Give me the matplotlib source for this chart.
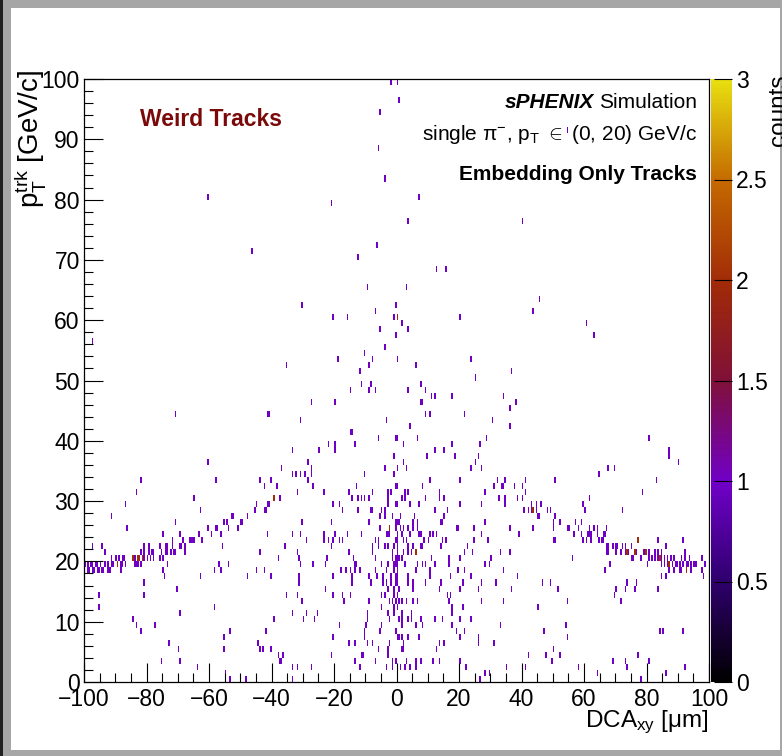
import numpy as np
import matplotlib
matplotlib.use("Agg")
import matplotlib.pyplot as plt
from matplotlib.colors import LinearSegmentedColormap
from matplotlib.patches import Rectangle

plt.rcParams['font.family'] = ['Liberation Sans', 'DejaVu Sans']
plt.rcParams['mathtext.fontset'] = 'custom'
plt.rcParams['mathtext.rm'] = 'Liberation Sans'
plt.rcParams['mathtext.it'] = 'Liberation Sans:italic'
plt.rcParams['mathtext.bf'] = 'Liberation Sans:bold'

# cells with one entry, (pT bin centre, [DCA values]) -- upper part of the plot
rows_upper = [
    (99.5, [-2.0, 0.0]),
    (96.5, [0.5]),
    (94.5, [-5.3]),
    (91.5, [54.5]),
    (88.5, [-5.6]),
    (83.5, [-3.9]),
    (80.5, [-60.5, 7.3]),
    (79.5, [-21.0]),
    (76.5, [3.6, 40.2]),
    (72.5, [-6.2]),
    (71.5, [-46.2]),
    (70.5, [-12.2]),
    (68.5, [12.6, 15.6]),
    (65.5, [-9.5, 3.0]),
    (63.5, [45.7]),
    (62.5, [-30.2, -0.5]),
    (61.5, [-6.6, 43.6]),
    (60.5, [-20.2, -15.8, -1.0, 20.1]),
    (59.5, [1.9, 60.6]),
    (58.5, [-5.3, 3.6]),
    (57.5, [-0.1, 63.4]),
    (56.5, [-97.4]),
    (55.5, [-3.6]),
    (54.5, [-10.2]),
    (53.5, [-18.8, -7.9, 0.1, 23.6]),
    (52.5, [-35.3, -8.9, 6.0]),
    (51.5, [-11.9, 36.9]),
    (50.5, [25.3]),
]

# negative DCA side, pT < 50
rows_left = [
    (49.5, [-11.3, -8.3]),
    (48.5, [-14.9, -8.8, -6.9]),
    (46.5, [-27.1, -19.6]),
    (44.5, [-70.6, -41.5, -40.6]),
    (43.5, [-30.9, -3.3]),
    (41.5, [-14.9, -14.3]),
    (40.5, [-5.9, -0.3]),
    (39.5, [-21.8, -19.6, -13.3]),
    (38.5, [-33.2, -24.9, -19.9]),
    (37.5, [-0.9]),
    (36.5, [-60.2, -28.2]),
    (35.5, [-37.0, -27.4, -3.9]),
    (34.5, [-33.2, -32.3, -31.0, -29.4, -27.4, -10.5, -0.8]),
    (33.5, [-81.9, -57.8, -43.9, -40.2, -28.5]),
    (32.5, [-42.2, -38.2, -26.8, -12.9, -0.1]),
    (31.5, [-83.5, -31.9, -23.3, -15.5, -7.8, -3.0, -1.9]),
    (30.5, [-64.6, -37.2, -14.2, -12.5, -11.4, -10.2, -8.8, -2.8]),
    (29.5, [-86.6, -44.9, -41.5, -41.0, -20.2, -18.3, -2.9, -0.1]),
    (28.5, [-62.9, -45.1, -42.4, -41.9, -17.2, -12.2, -8.5, -8.0, -4.6, -3.8]),
    (27.5, [-91.1, -52.7, -52.2, -47.9, -5.2, -3.7, -1.1]),
    (26.5, [-70.6, -55.3, -54.3, -49.9, -49.2, -30.2, -20.9, -8.6, -0.1]),
    (25.5, [-86.2, -60.2, -57.8, -57.3, -53.7, -50.8, -5.1, -0.3]),
    (24.5, [-74.8, -69.2, -63.3, -59.1, -56.3, -41.2, -33.4, -30.6, -23.3,
            -19.7, -15.9, -11.3, -3.4, -3.0, -2.1]),
    (23.5, [-71.8, -68.4, -66.1, -65.6, -65.1, -64.6, -62.1, -28.9, -23.4,
            -21.8, -20.5, -18.5, -17.1, -6.6, -5.9, -0.2]),
    (22.5, [-97.1, -94.2, -80.8, -79.2, -75.8, -73.7, -73.2, -71.6, -69.4,
            -68.9, -67.8, -55.8, -35.6, -20.7, -7.8, -5.6, -3.9, -2.6, -0.8]),
    (21.5, [-93.1, -82.0, -80.7, -79.2, -78.1, -77.6, -75.1, -73.7, -73.2,
            -72.4, -71.5, -70.6, -68.0, -43.9, -31.6, -15.5, -7.9, -1.2]),
    (20.5, [-91.5, -89.7, -88.6, -87.7, -87.2, -83.8, -80.7, -79.7, -78.9,
            -77.7, -76.0, -74.7, -37.9, -31.2, -22.2, -13.6, -6.7, -1.1, -0.1]),
    (19.5, [-99.6, -98.6, -97.9, -97.2, -96.5, -95.6, -94.6, -93.3, -92.4,
            -91.5, -90.6, -88.1, -87.6, -86.8, -84.0, -83.4, -82.9, -81.8,
            -73.3, -56.9, -53.6, -30.9, -26.8, -22.6, -13.3, -12.8, -5.0,
            -3.0, -1.0, -0.4]),
    (18.5, [-99.0, -98.2, -97.5, -96.7, -96.0, -95.2, -94.4, -93.6, -92.5,
            -92.0, -88.5, -74.8, -58.5, -56.5, -44.9, -42.3, -18.0, -16.2,
            -14.7, -13.2, -11.9, -7.0, -3.1, -0.8]),
    (17.5, [-74.3, -62.6, -47.9, -40.2, -31.1, -20.5, -14.1, -8.7, -6.1,
            -4.3, -1.8, -0.3]),
    (16.5, [-80.6, -31.2, -14.2, -8.1, -4.5, -3.4, -1.9, -0.4]),
    (15.5, [-70.2, -23.0, -2.9, -0.8]),
    (14.5, [-95.5, -80.8, -35.5, -32.0, -20.3, -17.2, -14.6, -4.9, -4.0, -0.6]),
    (13.5, [-30.2, -17.0, -8.8, -2.1, -1.3, -0.5]),
    (12.5, [-95.5, -58.5, -4.7, -0.8]),
    (11.5, [-69.2, -33.4, -28.6, -25.2, -9.2, -2.6, -0.9]),
    (10.5, [-84.4, -39.5, -29.9, -26.2, -9.5, -2.2]),
    (9.5, [-83.1, -77.2, -18.4, -9.9, -4.7]),
    (8.5, [-81.9, -53.2, -41.9, -10.4, -5.5, -0.2]),
    (7.5, [-55.2, -20.2, -10.4, 0.0]),
    (6.5, [-72.8, -44.2, -15.5, -13.3, -9.5, -7.8, -2.4]),
    (5.5, [-69.8, -55.2, -44.0, -42.8, -40.3, -5.9, -2.7]),
    (4.5, [-37.8, -36.2, -20.6, -11.1, -10.6, -2.8]),
    (3.5, [-75.5, -69.5, -37.4, -36.9, -13.2, -6.6, -1.3, -0.2]),
    (2.5, [-63.8, -33.1, -31.8, -27.5, -11.6, -3.3, -1.5]),
    (1.5, [-54.8]),
    (0.5, [-53.5, -48.2, -33.4]),
]

# positive DCA side, pT < 50
rows_right = [
    (49.5, [7.7]),
    (48.5, [3.9, 9.0]),
    (47.5, [11.1, 12.4, 17.8, 34.4]),
    (46.5, [7.5, 8.0, 38.2]),
    (45.5, [36.1]),
    (44.5, [9.2, 10.5, 21.5]),
    (43.5, [30.8]),
    (42.5, [4.1, 36.1]),
    (40.5, [0.1, 6.5, 28.7, 80.7]),
    (39.5, [2.2, 17.8, 26.7]),
    (38.5, [12.4, 15.1, 87.3]),
    (37.5, [9.8, 18.5, 26.1, 87.3]),
    (36.5, [2.2, 25.1, 90.4]),
    (35.5, [0.4, 3.1, 23.5, 27.1, 67.5, 69.8]),
    (34.5, [64.7]),
    (33.5, [10.7, 20.4, 32.1, 34.8, 41.4, 50.7, 83.0]),
    (32.5, [0.2, 8.4, 31.4, 33.5, 34.0, 37.9, 40.2]),
    (31.5, [2.9, 3.8, 13.5, 28.1, 41.1, 78.5]),
    (30.5, [1.8, 2.6, 9.4, 13.5, 15.2, 32.9, 34.5, 38.5, 40.2, 61.5]),
    (29.5, [0.1, 4.1, 7.1, 20.4, 27.1, 34.8, 43.1, 44.7, 46.3, 59.7]),
    (28.5, [12.1, 16.1, 40.8, 42.1, 43.1, 43.6, 43.9, 44.7, 48.1, 49.2,
            60.1, 72.1]),
    (27.5, [1.4, 5.8, 15.3, 45.3, 45.8, 50.8]),
    (26.5, [0.3, 0.8, 5.2, 6.5, 14.3, 14.8, 28.1, 50.4, 52.1, 57.4, 59.4]),
    (25.5, [1.1, 2.4, 3.9, 5.2, 6.5, 19.3, 19.8, 24.8, 36.1, 43.5, 50.3,
            54.5, 55.4, 58.3, 61.5, 63.1, 64.3, 67.3]),
    (24.5, [0.3, 1.5, 4.3, 7.1, 7.6, 10.5, 11.6, 12.9, 27.4, 39.1, 56.5,
            59.3, 61.1, 61.6, 62.2, 64.2, 66.0, 66.5]),
    (23.5, [0.1, 2.4, 3.0, 8.9, 10.0, 14.5, 15.8, 24.8, 29.2, 50.0, 50.5,
            59.8, 60.8, 62.0, 64.9, 65.8, 66.3, 83.7, 91.8]),
    (22.5, [0.1, 3.8, 5.4, 7.5, 8.0, 14.2, 22.9, 67.0, 67.9, 69.0, 70.2,
            70.7, 72.2, 73.4, 75.1, 86.1]),
    (21.5, [0.1, 2.0, 3.7, 4.8, 21.8, 24.2, 33.4, 36.4, 67.0, 67.9, 70.2,
            71.9, 73.0, 74.3, 76.7, 79.1, 80.6, 82.6, 83.7, 84.7, 92.4]),
    (20.5, [0.1, 0.8, 1.8, 11.1, 16.7, 20.1, 30.2, 56.1, 75.4, 75.9, 78.0,
            80.9, 81.9, 82.9, 83.9, 84.9, 85.9, 86.9, 87.9, 88.9,
            91.3, 92.4, 93.7, 97.7]),
    (19.5, [0.1, 2.8, 6.7, 8.2, 9.4, 12.4, 16.6, 28.2, 29.5, 68.1, 80.1,
            84.5, 85.5, 86.5, 88.1, 89.1, 89.6, 90.6, 91.6, 92.6, 93.1,
            94.1, 95.1, 95.8, 98.5]),
    (18.5, [0.3, 6.2, 10.9, 19.5, 21.6, 34.2, 66.7, 87.3, 88.5, 90.5, 91.0,
            94.1, 97.5]),
    (17.5, [0.1, 3.7, 10.9, 17.4, 23.5, 38.8, 84.5, 86.0, 98.0]),
    (16.5, [0.1, 3.7, 5.2, 9.4, 14.1, 21.4, 27.1, 31.6, 46.8, 49.3, 73.9, 76.6]),
    (15.5, [0.7, 5.4, 13.5, 20.4, 26.3, 36.8, 51.7, 70.2, 73.1, 76.0, 83.7]),
    (14.5, [0.3, 16.1, 17.2, 69.8]),
    (13.5, [0.5, 1.8, 3.3, 5.2, 6.9, 16.7, 27.0, 34.2, 54.5, 71.7]),
    (12.5, [0.3, 17.5, 21.1, 45.1]),
    (11.5, [1.8, 4.5, 17.5]),
    (10.5, [0.7, 1.8, 3.5, 4.7, 7.5, 12.1, 14.7, 20.4, 23.8]),
    (9.5, [1.8, 6.2, 8.2, 17.5, 33.4, 54.1]),
    (8.5, [19.0, 21.7, 47.4, 84.4, 85.1, 91.5]),
    (7.5, [0.7, 1.8, 3.5, 7.3, 20.1, 26.1, 54.6]),
    (6.5, [2.0, 13.7, 15.4, 26.3, 31.1]),
    (5.5, [1.8, 2.4, 12.8, 50.1]),
    (4.5, [42.1, 47.7, 52.3, 77.1]),
    (3.5, [3.0, 6.0, 7.5, 11.7, 13.8, 20.4, 49.8, 69.2, 73.4, 80.7]),
    (2.5, [0.3, 1.0, 2.6, 4.1, 6.0, 22.1, 35.1, 41.4, 58.1, 73.6, 92.4]),
    (1.5, [28.2, 29.7, 40.4, 64.2, 86.4]),
    (0.5, [26.5, 78.3]),
]

# cells with two entries
rows_double = [
    (60.5, [0.2]),
    (30.5, [-39.4]),
    (25.5, [-2.1]),
    (23.5, [77.4]),
    (21.5, [6.0, 73.7, 76.2, 79.6]),
    (20.5, [-84.5, -82.9, -82.2, -81.5, 84.4]),
    (19.5, [-89.3, 87.1]),
    (18.5, [92.9]),
]


def unpack(rows, n):
    xs, ys, ws = [], [], []
    for pt, dcas in rows:
        xs += dcas
        ys += [pt] * len(dcas)
        ws += [n] * len(dcas)
    return xs, ys, ws


dca, pt, w = [], [], []
for rows, n in [(rows_upper, 1), (rows_left, 1), (rows_right, 1), (rows_double, 2)]:
    a, b, c = unpack(rows, n)
    dca += a
    pt += b
    w += c

xedges = np.linspace(-100, 100, 401)
yedges = np.linspace(0, 100, 101)
H, _, _ = np.histogram2d(dca, pt, bins=[xedges, yedges], weights=w)
H = np.ma.masked_equal(H, 0)

# palette
cmap = LinearSegmentedColormap.from_list("pal", [
    (0.0, "#000000"),
    (0.17, "#300070"),
    (0.33, "#7000c8"),
    (0.5, "#801038"),
    (0.66, "#a02a08"),
    (0.83, "#c46800"),
    (1.0, "#e8e010"),
])

W, Hpx = 782, 756
fig = plt.figure(figsize=(W / 100, Hpx / 100), dpi=100)

# screenshot frame
fig.patches.append(Rectangle((0, 0), 1, 1, transform=fig.transFigure,
                             facecolor="#a6a6a6", edgecolor="none", zorder=-10))
fig.patches.append(Rectangle((0, 0), 3 / W, 1, transform=fig.transFigure,
                             facecolor="#202020", edgecolor="none", zorder=-9))
fig.patches.append(Rectangle((11 / W, 6 / Hpx), (780 - 11) / W, (748 - 6) / Hpx,
                             transform=fig.transFigure, facecolor="white",
                             edgecolor="none", zorder=-8))

ax = fig.add_axes([84 / W, 1 - 682 / Hpx, 625 / W, 603 / Hpx])
mesh = ax.pcolormesh(xedges, yedges, H.T, cmap=cmap, vmin=0, vmax=3,
                     antialiased=False, linewidth=0)
ax.set_xlim(-100, 100)
ax.set_ylim(0, 100)
ax.set_xticks(np.arange(-100, 101, 20))
ax.set_xticks(np.arange(-100, 101, 5), minor=True)
ax.set_yticks(np.arange(0, 101, 10))
ax.set_yticks(np.arange(0, 101, 2), minor=True)
ax.tick_params(which="both", direction="in", top=False, right=False,
               labelsize=16.5, width=0.8)
ax.tick_params(axis="x", which="major", length=13.5, pad=4)
ax.tick_params(axis="x", which="minor", length=6.8)
ax.tick_params(axis="y", which="major", length=13.5, pad=3)
ax.tick_params(axis="y", which="minor", length=6.8)
for s in ax.spines.values():
    s.set_linewidth(0.9)

cax = fig.add_axes([711 / W, 1 - 682 / Hpx, 21 / W, 603 / Hpx])
cb = fig.colorbar(mesh, cax=cax)
cb.outline.set_visible(False)
cb.set_ticks(np.arange(0, 3.01, 0.5))
cb.set_ticklabels(["0", "0.5", "1", "1.5", "2", "2.5", "3"])
cax.tick_params(direction="in", length=13, width=0.8, labelsize=16.5, pad=3)

fig.text(30 / W, 1 - 70 / Hpx, r"$\mathrm{p}_{\mathrm{T}}^{\mathrm{trk}}$ [GeV/c]",
         rotation=90, ha="center", va="top", fontsize=20)
fig.text(709 / W, 1 - 722 / Hpx, r"DCA$_{\mathrm{xy}}$ [$\mathrm{\mu}$m]",
         ha="right", va="center", fontsize=17.5)
fig.text(779 / W, 1 - 75 / Hpx, "counts", rotation=90, ha="center", va="top",
         fontsize=17.5)

fig.text(140 / W, 1 - 119 / Hpx, "Weird Tracks", color="#7a0a0a",
         fontweight="bold", fontsize=16.5, ha="left", va="center")

t_sim = fig.text(697 / W, 1 - 102 / Hpx, "Simulation", fontsize=15,
                 ha="right", va="center")
fig.canvas.draw()
bb = t_sim.get_window_extent(fig.canvas.get_renderer())
fig.text((bb.x0 - 5) / W, 1 - 102 / Hpx, "sPHENIX", fontsize=15,
         fontweight="bold", fontstyle="italic", ha="right", va="center")
fig.text(697 / W, 1 - 135 / Hpx,
         r"single $\mathrm{\pi}^{\mathrm{-}}$, p$_{\mathrm{T}}$ $\in$ (0, 20) GeV/c",
         fontsize=15, ha="right", va="center")
fig.text(697 / W, 1 - 175 / Hpx, "Embedding Only Tracks", fontsize=15,
         fontweight="bold", ha="right", va="center")

fig.savefig("out.png", dpi=100)
